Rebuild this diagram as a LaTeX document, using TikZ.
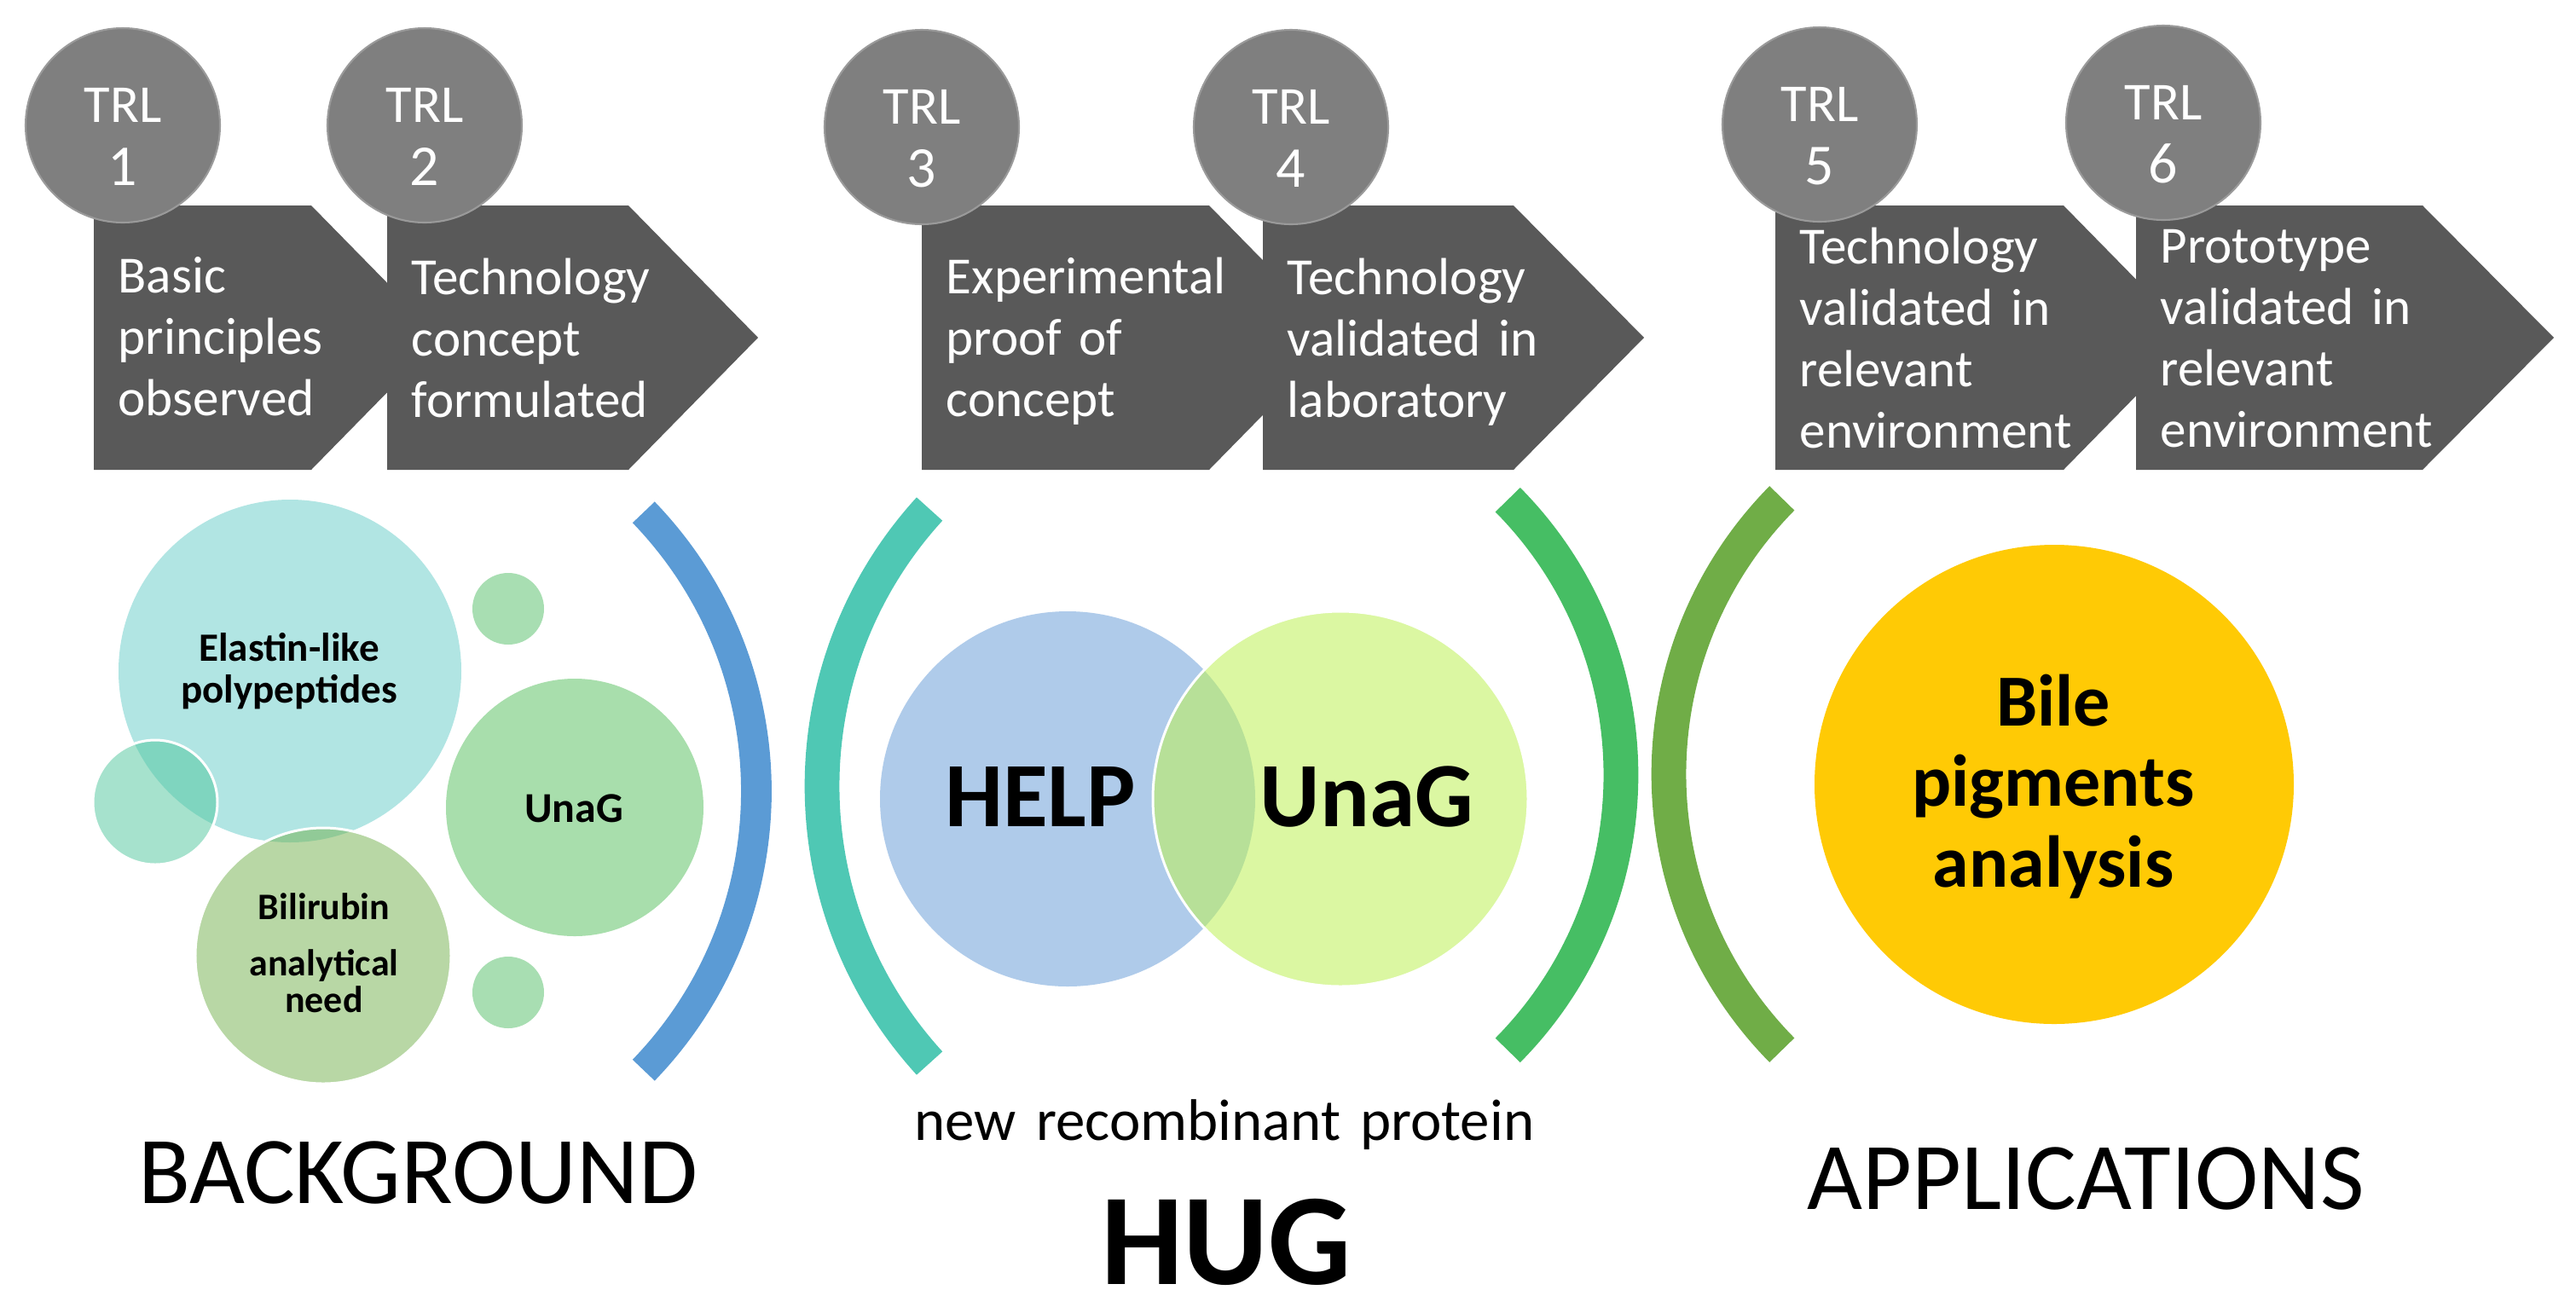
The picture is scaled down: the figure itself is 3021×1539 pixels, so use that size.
\documentclass[tikz,border=0pt]{standalone}
\usepackage{fontspec}
\setmainfont{Carlito}
\usetikzlibrary{calc}
\definecolor{boxgray}{HTML}{595959}
\definecolor{trlgray}{HTML}{7F7F7F}
\definecolor{trledge}{HTML}{9A9A9A}
\definecolor{arcblue}{HTML}{5B9BD5}
\definecolor{arcteal}{HTML}{4FC8B4}
\definecolor{arcgreen}{HTML}{46BE64}
\definecolor{arcolive}{HTML}{70AD47}
\definecolor{elpcyan}{HTML}{B1E5E3}
\definecolor{dotgreen}{HTML}{A8DEB2}
\definecolor{unagsmall}{HTML}{A8DEAC}
\definecolor{leftcirc}{RGB}{79,198,156}
\definecolor{bilicirc}{RGB}{115,177,77}
\definecolor{helpblue}{HTML}{AFCBEA}
\definecolor{unagbig}{RGB}{191,242,86}
\definecolor{bileyellow}{HTML}{FFCA05}
\tikzset{
  trlcirc/.style={circle, fill=trlgray, draw=trledge, line width=0.6pt, minimum size=22.8mm, inner sep=0pt},
  trllab/.style={text=white, font=\fontsize{17.8pt}{20pt}\selectfont, inner sep=0pt, anchor=base},
  trlnum/.style={text=white, font=\fontsize{19.3pt}{22pt}\selectfont, inner sep=0pt, anchor=base},
  stagebox/.style={fill=boxgray},
  stagetxt/.style={text=white, font=\fontsize{17.4pt}{20.5pt}\selectfont, align=left, text width=45mm, inner sep=0pt, anchor=base west},
  mltext/.style={align=center, text width=80mm, inner sep=0pt, anchor=base},
  bracketA/.style={line width=10.2pt},
  bracketB/.style={line width=11.6pt},
  glass/.style={draw=white, line width=0.85pt, fill opacity=0.5},
  biglabel/.style={inner sep=0pt, anchor=base, font=\fontsize{31.9pt}{36pt}\selectfont}
}
\begin{document}
\begin{tikzpicture}[x=0.1mm, y=-0.1mm]
\useasboundingbox (0,0) rectangle (3021,1539);
\fill[white] (0,0) rectangle (3021,1539);
% stage boxes
\fill[stagebox] (110,241) -- (365,241) -- (517,396) -- (365,551) -- (110,551) -- cycle;
\fill[stagebox] (454,241) -- (737,241) -- (889,396) -- (737,551) -- (454,551) -- cycle;
\fill[stagebox] (1081,241) -- (1418,241) -- (1570,396) -- (1418,551) -- (1081,551) -- cycle;
\fill[stagebox] (1481,241) -- (1775,241) -- (1928,396) -- (1775,551) -- (1481,551) -- cycle;
\fill[stagebox] (2082,241) -- (2420,241) -- (2572,396) -- (2420,551) -- (2082,551) -- cycle;
\fill[stagebox] (2505,241) -- (2841,241) -- (2995,396) -- (2841,551) -- (2505,551) -- cycle;
% stage texts
\node[stagetxt] (s1) at (138,343) {Basic\\principles\\observed};
\node[stagetxt] (s2) at (482,345) {Technology\\concept\\formulated};
\node[stagetxt] (s3) at (1109,344) {Experimental\\proof of\\concept};
\node[stagetxt] (s4) at (1509,345) {Technology\\validated in\\laboratory};
\node[stagetxt] (s5) at (2110,309) {Technology\\validated in\\relevant\\environment};
\node[stagetxt] (s6) at (2533,308) {Prototype\\validated in\\relevant\\environment};
% TRL circles
\foreach \n/\cx/\cy in {1/144/147, 2/498/147, 3/1081/149, 4/1514/149, 5/2134/146, 6/2537/144}{
  \node[trlcirc] (c\n) at (\cx,\cy) {};
  \node[trllab] (t\n) at (\cx,\cy-4) {TRL};
  \node[trlnum] (d\n) at (\cx,\cy+70) {\n};
}
% brackets
\draw[arcblue, bracketA] ($(416,928)+(-44:471)$) arc[start angle=-44, end angle=44, radius=471];
\draw[arcteal, bracketB] ($(1446,922)+(137.6:482)$) arc[start angle=137.6, end angle=222.4, radius=482];
\draw[arcgreen, bracketB] ($(1442,909)+(-44.7:459)$) arc[start angle=-44.7, end angle=44.7, radius=459];
\draw[arcolive, bracketB] ($(2418,908)+(135.4:461)$) arc[start angle=135.4, end angle=224.6, radius=461];
% background bubbles
\fill[elpcyan] (340,787) circle[radius=201];
\fill[dotgreen] (596,714) circle[radius=42];
\fill[dotgreen] (596,1164) circle[radius=42];
\fill[unagsmall] (674,947) circle[radius=151];
\filldraw[glass, fill=leftcirc] (182,941) circle[radius=73];
\filldraw[glass, fill=bilicirc] (379,1121) circle[radius=150];
\node[mltext, font=\bfseries\fontsize{13.4pt}{14.2pt}\selectfont] (elp) at (339,775) {Elastin-like\\polypeptides};
\node[mltext, font=\bfseries\fontsize{14.2pt}{16pt}\selectfont] (unag1) at (673,964) {UnaG};
\node[mltext, font=\bfseries\fontsize{12.5pt}{12.2pt}\selectfont] (bili) at (380,1078) {Bilirubin\\[6.8pt]analytical\\need};
% HUG venn
\fill[helpblue] (1252,937) circle[radius=220];
\filldraw[draw=white, line width=0.85pt, fill=unagbig, fill opacity=0.55] (1572,937) circle[radius=220];
\node[mltext, font=\bfseries\fontsize{30.7pt}{34pt}\selectfont] (help) at (1220,969) {HELP};
\node[mltext, font=\bfseries\fontsize{30.7pt}{34pt}\selectfont] (unag2) at (1603,969) {UnaG};
% application
\fill[bileyellow] (2409,920) circle[radius=281];
\node[mltext, font=\bfseries\fontsize{24.5pt}{26.9pt}\selectfont] (bile) at (2408,851) {Bile\\pigments\\analysis};
% bottom labels
\node[biglabel] (bg) at (490,1411) {BACKGROUND};
\node[biglabel] (app) at (2446,1418) {APPLICATIONS};
\node[mltext, font=\fontsize{19.6pt}{22pt}\selectfont] (newrp) at (1436,1337) {new recombinant protein};
\node[mltext, font=\bfseries\fontsize{43.5pt}{48pt}\selectfont] (hug) at (1438,1506) {HUG};
\end{tikzpicture}
\end{document}
